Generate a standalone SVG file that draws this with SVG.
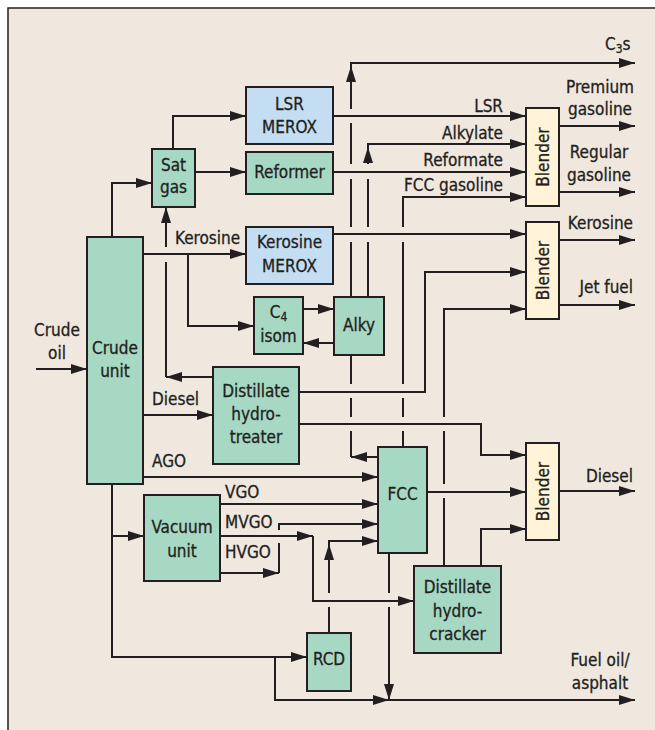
<svg xmlns="http://www.w3.org/2000/svg" width="655" height="730" viewBox="0 0 655 730">
<style>
.g{fill:#A6D8C4;stroke:#231F20;stroke-width:2}
.b{fill:#C3DDF2;stroke:#231F20;stroke-width:2}
.y{fill:#FFF4D8;stroke:#231F20;stroke-width:2}
text{font-family:"DejaVu Sans Condensed","Liberation Sans",Arial,sans-serif;font-stretch:condensed;font-size:17px;fill:#231F20;stroke:#231F20;stroke-width:0.3px}
.m{text-anchor:middle}
.e{text-anchor:end}
#connectors path{fill:none;stroke:#231F20;stroke-width:2}
.a{marker-end:url(#ah)}
</style>
<defs>
<marker id="ah" markerUnits="userSpaceOnUse" markerWidth="16" markerHeight="10" refX="16" refY="5" orient="auto" viewBox="0 0 16 10">
<path d="M0,0 L16,5 L0,10 z" fill="#231F20"/>
</marker>
</defs>
<rect x="0" y="0" width="655" height="730" fill="#FFFFFF"/>
<rect x="8" y="8" width="660" height="730" fill="#F0E8DF"/>
<path d="M8,740 V8 H665" fill="none" stroke="#231F20" stroke-width="1.5"/>

<g id="connectors">
<path class="a" d="M36,369 H87"/>
<path class="a" d="M112,237 V183 H152"/>
<path class="a" d="M173,149 V116 H246"/>
<path class="a" d="M195,172 H246"/>
<path class="a" d="M143,254 H246"/>
<path class="a" d="M188,254 V326 H254"/>
<path class="a" d="M213,377 H166"/>
<path d="M166,377 V262"/>
<path class="a" d="M166,247 V207"/>
<path class="a" d="M303,309 H334"/>
<path class="a" d="M334,343 H303"/>
<path class="a" d="M378,457 H351"/>
<path d="M351,457 V431 M351,417 V398 M351,384 V355 M351,297 V242 M351,227 V179 M351,164 V123"/>
<path class="a" d="M351,109 V63 H635"/>
<path class="a" d="M351,84 V66"/>
<path d="M368,297 V242 M368,227 V179"/>
<path class="a" d="M368,164 V144 H526"/>
<path class="a" d="M368,164 V147"/>
<path class="a" d="M333,116 H526"/>
<path class="a" d="M333,172 H526"/>
<path d="M403,447 V431 M403,417 V398 M403,384 V242"/>
<path class="a" d="M403,227 V197 H526"/>
<path class="a" d="M333,234 H526"/>
<path class="a" d="M299,392 H425 V272 H526"/>
<path d="M444,566 V498 M444,484 V431"/>
<path class="a" d="M444,417 V309 H526"/>
<path class="a" d="M299,424 H481 V455 H526"/>
<path class="a" d="M427,492 H526"/>
<path class="a" d="M481,566 V529 H526"/>
<path class="a" d="M559,126 H635"/>
<path class="a" d="M559,192 H635"/>
<path class="a" d="M559,240 H635"/>
<path class="a" d="M559,305 H635"/>
<path class="a" d="M559,491 H635"/>
<path class="a" d="M143,415 H213"/>
<path class="a" d="M143,477 H378"/>
<path class="a" d="M220,504 H378"/>
<path class="a" d="M220,573 H279"/>
<path d="M279,573 V543"/>
<path class="a" d="M279,530 V524 H378"/>
<path class="a" d="M220,536 H313"/>
<path class="a" d="M313,536 V601 H414"/>
<path d="M329,633 V607"/>
<path class="a" d="M329,593 V541 H378"/>
<path class="a" d="M329,560 V544"/>
<path d="M389,553 V593"/>
<path class="a" d="M389,607 V700"/>
<path class="a" d="M112,484 V657 H307"/>
<path class="a" d="M112,536 H144"/>
<path class="a" d="M275,657 V700 H389"/>
<path class="a" d="M389,700 H635"/>
</g>

<g id="crude-unit"><rect class="g" x="87" y="237" width="56" height="247"/><text class="m" x="115" y="354">Crude</text><text class="m" x="115" y="377">unit</text></g>
<g id="sat-gas"><rect class="g" x="152" y="149" width="43" height="58"/><text class="m" x="173.5" y="171">Sat</text><text class="m" x="173.5" y="193">gas</text></g>
<g id="lsr-merox"><rect class="b" x="246" y="87" width="87" height="57"/><text class="m" x="289.5" y="110">LSR</text><text class="m" x="289.5" y="133">MEROX</text></g>
<g id="reformer"><rect class="g" x="246" y="152" width="87" height="42"/><text class="m" x="289.5" y="178">Reformer</text></g>
<g id="kerosine-merox"><rect class="b" x="246" y="227" width="87" height="57"/><text class="m" x="289.5" y="248">Kerosine</text><text class="m" x="289.5" y="272">MEROX</text></g>
<g id="c4-isom"><rect class="g" x="254" y="297" width="49" height="57"/><text class="m" x="278.5" y="318">C<tspan font-size="12" dy="3">4</tspan></text><text class="m" x="278.5" y="342">isom</text></g>
<g id="alky"><rect class="g" x="334" y="297" width="50" height="58"/><text class="m" x="359" y="331">Alky</text></g>
<g id="distillate-hydrotreater"><rect class="g" x="213" y="367" width="86" height="97"/><text class="m" x="256" y="397">Distillate</text><text class="m" x="256" y="420">hydro-</text><text class="m" x="256" y="443">treater</text></g>
<g id="fcc"><rect class="g" x="378" y="447" width="49" height="106"/><text class="m" x="402.5" y="500">FCC</text></g>
<g id="vacuum-unit"><rect class="g" x="144" y="495" width="76" height="86"/><text class="m" x="182" y="533">Vacuum</text><text class="m" x="182" y="557">unit</text></g>
<g id="rcd"><rect class="g" x="307" y="633" width="44" height="58"/><text class="m" x="329" y="665">RCD</text></g>
<g id="distillate-hydrocracker"><rect class="g" x="414" y="566" width="87" height="87"/><text class="m" x="457.5" y="593">Distillate</text><text class="m" x="457.5" y="617">hydro-</text><text class="m" x="457.5" y="640">cracker</text></g>
<g id="blender-gasoline"><rect class="y" x="526" y="108" width="33" height="98"/><text class="m" transform="translate(549,157) rotate(-90)">Blender</text></g>
<g id="blender-kerosine"><rect class="y" x="526" y="222" width="33" height="97"/><text class="m" transform="translate(549,270.5) rotate(-90)">Blender</text></g>
<g id="blender-diesel"><rect class="y" x="526" y="443" width="33" height="97"/><text class="m" transform="translate(549,491.5) rotate(-90)">Blender</text></g>

<g id="labels">
<text class="m" x="57" y="336">Crude</text>
<text class="m" x="57" y="359">oil</text>
<text x="175" y="244">Kerosine</text>
<text x="152" y="405">Diesel</text>
<text x="152" y="467">AGO</text>
<text x="225" y="498">VGO</text>
<text x="225" y="528">MVGO</text>
<text x="225" y="558">HVGO</text>
<text class="e" x="503" y="112">LSR</text>
<text class="e" x="503" y="139">Alkylate</text>
<text class="e" x="503" y="166">Reformate</text>
<text class="e" x="503" y="191">FCC gasoline</text>
<text x="605" y="50">C<tspan font-size="12" dy="3">3</tspan><tspan dy="-3">s</tspan></text>
<text class="m" x="600" y="93">Premium</text>
<text class="m" x="600" y="115">gasoline</text>
<text class="m" x="599" y="158">Regular</text>
<text class="m" x="599" y="181">gasoline</text>
<text class="e" x="633" y="229">Kerosine</text>
<text class="e" x="633" y="293">Jet fuel</text>
<text class="e" x="633" y="482">Diesel</text>
<text class="m" x="600" y="666">Fuel oil/</text>
<text class="m" x="600" y="689">asphalt</text>
</g>
</svg>
